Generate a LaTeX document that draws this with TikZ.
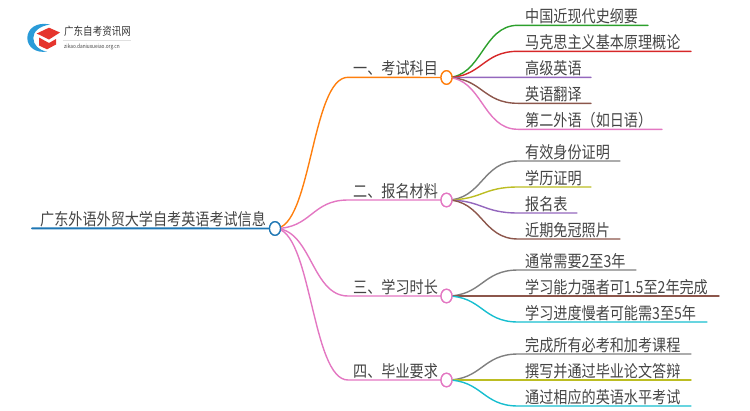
\documentclass[tikz,border=0pt]{standalone}
\usepackage{fontspec}
\usetikzlibrary{calc,shapes.geometric}
\setmainfont[FakeStretch=0.85]{Noto Sans CJK SC}
\definecolor{txt}{HTML}{444444}
\definecolor{cblue}{HTML}{1F77B4}
\definecolor{corange}{HTML}{FF7F0E}
\definecolor{cgreen}{HTML}{2CA02C}
\definecolor{cred}{HTML}{D62728}
\definecolor{cpurple}{HTML}{9467BD}
\definecolor{cbrown}{HTML}{8C564B}
\definecolor{cpink}{HTML}{E377C2}
\definecolor{cgrey}{HTML}{7F7F7F}
\definecolor{colive}{HTML}{BCBD22}
\definecolor{ccyan}{HTML}{17BECF}
\definecolor{logoblue}{HTML}{2A9BD8}
\definecolor{logored}{HTML}{E5352D}
\tikzset{
  lab/.style={anchor=base west,inner sep=0pt,text=txt,font=\fontsize{16.6}{16.6}\selectfont},
  dot/.style={ellipse,draw=#1,fill=white,line width=1.3pt,minimum width=11pt,minimum height=13.5pt,inner sep=0pt},
  wire/.style={line width=1.4pt,draw=#1,line cap=round},
}
\begin{document}
\begin{tikzpicture}[x=1pt,y=-1pt]
\useasboundingbox (0,0) rectangle (750,410);
% coordinates
\coordinate (r0) at (32,228.3);
\coordinate (a0) at (348,77.3);
\coordinate (b0) at (348,200);
\coordinate (c0) at (348,296);
\coordinate (d0) at (348,380);
\foreach \n/\y/\e in {a1/25.3/648,a2/51.3/691,a3/77.3/591,a4/103.3/591,a5/129.3/662,
  b1/161/620,b2/187/591,b3/213/577,b4/239/620,
  c1/270/636,c2/296/719,c3/322/707,
  d1/354/691,d2/380/691,d3/406/691}{
  \coordinate (\n s) at (518,\y);
  \coordinate (\n e) at (\e,\y);
}
\node[dot=cblue] (root) at (275,228.5) {};
\node[dot=corange] (a) at (446.5,77.5) {};
\node[dot=cpink] (b) at (446.5,200) {};
\node[dot=cpink] (c) at (446.5,296) {};
\node[dot=cpink] (d) at (446.5,380) {};
% main wires
\draw[wire=cblue,line width=1.9pt] (r0) -- (root);
\foreach \t/\k/\col in {a0/a/corange,b0/b/cpink,c0/c/cpink,d0/d/cpink}{
  \draw[wire=\col] (root.center) .. controls ($(root.center)!0.5!(root.center-|\t)$) and ($(\t)!0.5!(\t-|root.center)$) .. (\t) -- (\k);
}
% leaf wires
\foreach \k/\l/\col in {a/a1/cgreen,a/a2/cred,a/a3/cpurple,a/a4/cbrown,a/a5/cpink,
  b/b1/cgrey,b/b2/colive,b/b3/cpurple,b/b4/cbrown,
  c/c1/cgrey,c/c2/cbrown,c/c3/ccyan,
  d/d1/cgrey,d/d2/colive,d/d3/ccyan}{
  \draw[wire=\col] (\k.center) .. controls ($(\k.center)!0.5!(\k.center-|\l s)$) and ($(\l s)!0.5!(\l s-|\k.center)$) .. (\l s) -- (\l e);
}
% redraw circles on top
\foreach \k/\col in {root/cblue,a/corange,b/cpink,c/cpink,d/cpink}{
  \node[dot=\col] at (\k) {};
}
% labels
\node[lab] (rootlab) at (40,225.2) {广东外语外贸大学自考英语考试信息};
\node[lab] (alab) at (353,74.2) {一、考试科目};
\node[lab] (blab) at (353,197) {二、报名材料};
\node[lab] (clab) at (353,293) {三、学习时长};
\node[lab] (dlab) at (353,377) {四、毕业要求};
\node[lab] (a1t) at (525,22.2) {中国近现代史纲要};
\node[lab] (a2t) at (525,48.2) {马克思主义基本原理概论};
\node[lab] (a3t) at (525,74.2) {高级英语};
\node[lab] (a4t) at (525,100.2) {英语翻译};
\node[lab] (a5t) at (525,126.2) {第二外语（如日语）};
\node[lab] (b1t) at (525,158) {有效身份证明};
\node[lab] (b2t) at (525,184) {学历证明};
\node[lab] (b3t) at (525,210) {报名表};
\node[lab] (b4t) at (525,236) {近期免冠照片};
\node[lab] (c1t) at (525,267) {通常需要2至3年};
\node[lab] (c2t) at (525,293) {学习能力强者可1.5至2年完成};
\node[lab] (c3t) at (525,319) {学习进度慢者可能需3至5年};
\node[lab] (d1t) at (525,351) {完成所有必考和加考课程};
\node[lab] (d2t) at (525,377) {撰写并通过毕业论文答辩};
\node[lab] (d3t) at (525,403) {通过相应的英语水平考试};
% logo
\fill[logoblue] (50,24.5) .. controls (36,21.5) and (27.3,29) .. (27.3,38) .. controls (27.3,47) and (36,53.5) .. (47,51.5) .. controls (39,50.5) and (33.3,45) .. (33.3,38) .. controls (33.3,31) and (40,26) .. (50,24.5) -- cycle;
\fill[logored] (36.7,33.5) -- (49,27.7) -- (60,32.5) -- (49,39.5) -- cycle;
\fill[logored] (39,37.5) -- (49,43) -- (56,39) -- (56,44.5) -- (47,49.3) -- (39,45.5) -- cycle;
\node[anchor=base west,inner sep=0pt,text=black!80,font=\fontsize{11.2}{11.2}\selectfont] (logot) at (64,35.8) {广东自考资讯网};
\draw[black!12,line width=.5pt] (63,40.5) -- (131,40.5);
\node[anchor=base west,inner sep=0pt,text=txt,font=\fontsize{5.6}{5.6}\selectfont] (logou) at (64,48.7) {zikao.daniuxueiao.org.cn};
\end{tikzpicture}
\end{document}
